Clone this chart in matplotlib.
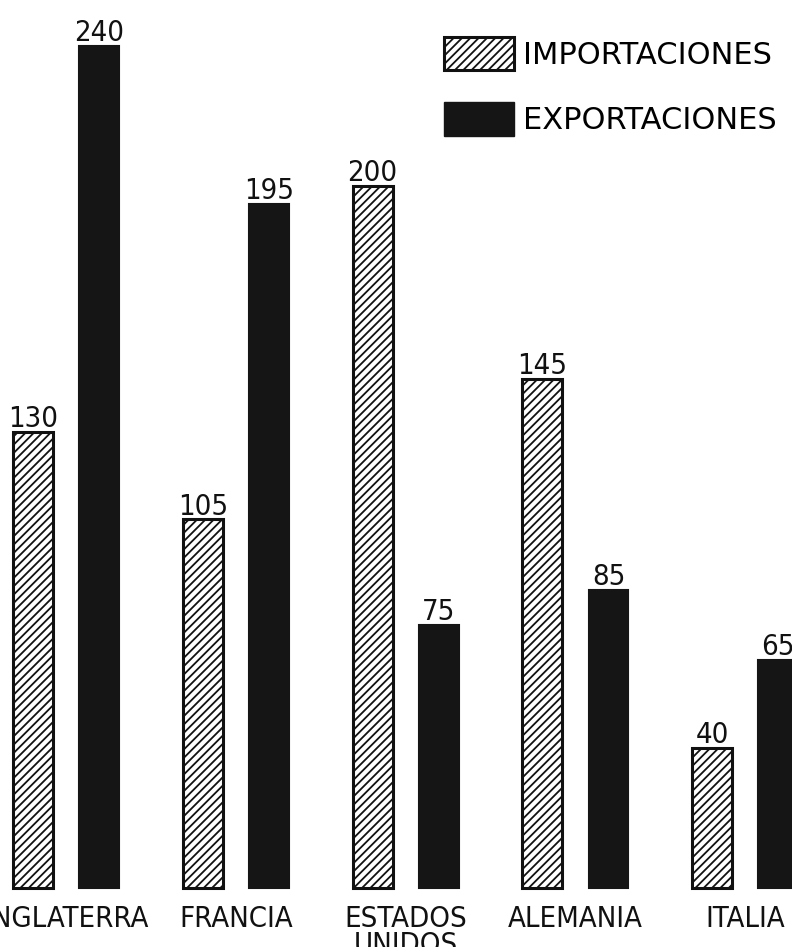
import numpy as np
import matplotlib.pyplot as plt
from matplotlib.patches import Patch

paises = ['INGLATERRA', 'FRANCIA', 'ESTADOS\nUNIDOS', 'ALEMANIA', 'ITALIA']
importaciones = [130, 105, 200, 145, 40]
exportaciones = [240, 195, 75, 85, 65]

plt.rcParams['font.family'] = ['DejaVu Sans']
plt.rcParams['hatch.linewidth'] = 1.3

fig = plt.figure(figsize=(7.92, 9.47), dpi=100)
ax = fig.add_axes([0, 0, 1, 1])

x = np.arange(len(paises))
w = 0.235
off = 0.195
b1 = ax.bar(x - off, importaciones, w, facecolor='white', edgecolor='#111111',
            hatch='////', linewidth=2.2)
b2 = ax.bar(x + off, exportaciones, w, facecolor='#151515', edgecolor='#151515',
            linewidth=1.5)

# valores encima de cada barra
for xi, v in zip(x - off, importaciones):
    ax.text(xi, v + 1.4, str(v), ha='center', va='baseline', fontsize=21,
            fontstretch='condensed', color='#111111')
for xi, v in zip(x + off, exportaciones):
    ax.text(xi, v + 1.4, str(v), ha='center', va='baseline', fontsize=21,
            fontstretch='condensed', color='#111111')

for xi, p in zip(x, paises):
    ax.text(xi, -4.8, p, ha='center', va='top', fontsize=21, fontstretch='condensed',
            color='#111111', linespacing=0.9)

ax.set_xlim(-0.39, 4.276)
ax.set_ylim(-16.8, 253)
ax.axis('off')

handles = [Patch(facecolor='white', edgecolor='#111111', hatch='////', linewidth=2.2),
           Patch(facecolor='#151515', edgecolor='#151515')]
ax.legend(handles, ['IMPORTACIONES', 'EXPORTACIONES'], loc='upper right',
          bbox_to_anchor=(1.0, 0.977), frameon=False, prop={'size': 22},
          handlelength=2.3, handleheight=1.3, handletextpad=0.3, labelspacing=1.05,
          borderaxespad=0.1)

fig.savefig('out.png', dpi=100)
